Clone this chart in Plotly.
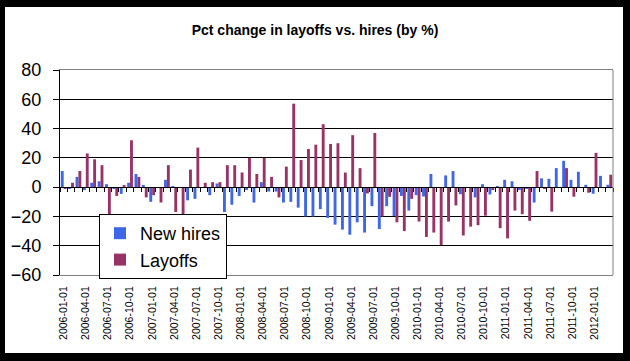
import plotly.graph_objects as go

months = [f"{y}-{m:02d}-01" for y in range(2006, 2013) for m in range(1, 13)][:75]

new_hires = [11, -1, 7, -2, 3, 4, 2, -1, -4.6, 3,
             9, 1.5, -10, 0, 5, 0.8, 0, -9, -8, 0,
             -5.5, 2.5, -17, -12, -6, -2, -10.5, 3.4, -3, -3,
             -10.5, -10, -14, -20, -20, -15, -21, -25.6, -29, -32.5,
             -24, -31, -13, -28.6, -13, -19.7, -6, -16, -5.5, -6.4,
             9, 0, 8, 11, -4.8, 0, -7, 2, -5, 0.7,
             5, 4, -2, -1, -10.5, 6, 5.7, 13, 18, 5,
             10.5, 1.6, -4.5, 7.7, 1.6]

layoffs = [-1, 3, 11, 23, 19, 15, -20, -6, 1.4, 32,
           7, -7, -5.5, -10.5, 15, -17, -20, 12, 27, 3,
           3.4, 3.4, 15, 15, 10, 20, 9, 20, 7, -7,
           14, 57, 18.5, 26, 29, 43, 29.5, 30, 10, 35.5,
           13, -4.3, 37, -20, -6.6, -24, -30, -8, -23.5, -34,
           -31, -39.5, -23.5, -12.5, -33, -27, -26, -19.5, -2, -28,
           -35, -16, -18.5, -23, 11, -1, -16.7, 0, 13, -6.5,
           0, -3.8, 23.4, 0, 8.5]

tick_labels = months[::3]
y_ticks = [-60, -40, -20, 0, 20, 40, 60, 80]

FONT = "Liberation Sans, Arial, sans-serif"

fig = go.Figure()
fig.add_trace(go.Bar(x=months, y=new_hires, name="New hires",
                     marker=dict(color="#3F66E6", line=dict(width=0))))
fig.add_trace(go.Bar(x=months, y=layoffs, name="Layoffs",
                     marker=dict(color="#993366", line=dict(width=0))))
# helper trace so the zero-line axis knows the categories
fig.add_trace(go.Scatter(x=months, y=[None] * len(months), xaxis="x2",
                         showlegend=False, hoverinfo="skip", mode="markers"))

fig.update_layout(
    width=630, height=361,
    margin=dict(l=60, r=17, t=70, b=86),
    paper_bgcolor="black",
    plot_bgcolor="white",
    barmode="group", bargap=0.22, bargroupgap=0,
    font=dict(family=FONT, color="black"),
    title=dict(text="<b>Pct change in layoffs vs. hires (by %)</b>",
               x=0.5, xref="container", xanchor="center",
               y=1 - 30 / 361, yref="container", yanchor="middle",
               font=dict(size=14, family=FONT, color="black")),
    xaxis=dict(type="category", range=[-0.5, 74.5],
               tickmode="array", tickvals=tick_labels, ticktext=tick_labels,
               tickangle=-90, tickfont=dict(size=10.5, family=FONT),
               ticks="", showgrid=False, zeroline=False,
               showline=True, linecolor="#808080", linewidth=1, mirror=True,
               ticklabelstandoff=6),
    xaxis2=dict(type="category", overlaying="x", anchor="free",
                position=60 / 140, range=[-0.5, 74.5],
                categoryorder="array", categoryarray=months,
                tickmode="linear", tick0=0, dtick=1, tickson="boundaries",
                ticks="outside", ticklen=4, tickcolor="black", tickwidth=1,
                showticklabels=False, showgrid=False, zeroline=False,
                showline=True, linecolor="black", linewidth=1),
    yaxis=dict(range=[-60, 80], tickmode="array", tickvals=y_ticks,
               showgrid=True, gridcolor="black", gridwidth=1,
               zeroline=False, showline=True, linecolor="black", linewidth=1,
               ticks="outside", ticklen=6, tickcolor="black",
               tickfont=dict(size=18, family=FONT),
               ticklabelstandoff=8),
    legend=dict(x=(99 - 60) / 553, y=(275 - 214) / 205,
                xanchor="left", yanchor="top",
                bgcolor="white", bordercolor="black", borderwidth=1,
                font=dict(size=18, family=FONT), itemwidth=30,
                traceorder="normal"),
    shapes=[
        dict(type="rect", xref="paper", yref="paper",
             x0=(5 - 60) / 553, x1=(623 - 60) / 553,
             y0=(275 - 353) / 205, y1=(275 - 7) / 205,
             fillcolor="white", line=dict(width=0), layer="below"),
        dict(type="line", xref="paper", yref="paper",
             x0=1, x1=1, y0=0, y1=1,
             line=dict(color="#808080", width=1)),
    ],
)

fig.write_html(
    "out.html",
    config={"displayModeBar": False},
    post_script="document.body.style.margin='0';document.body.style.background='black';",
)
